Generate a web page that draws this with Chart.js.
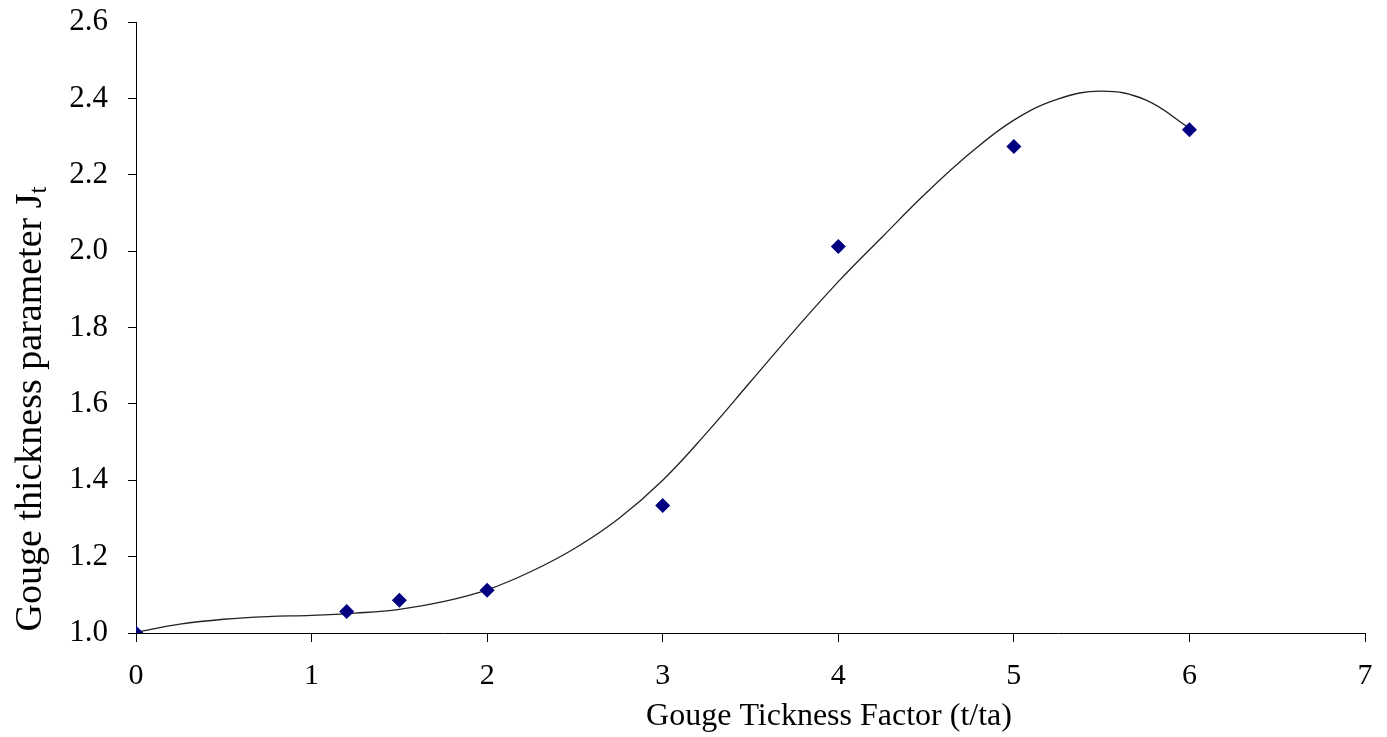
<!DOCTYPE html>
<html lang="en">
<head>
<meta charset="UTF-8">
<title>Gouge thickness parameter</title>
<script src="https://cdn.jsdelivr.net/npm/chart.js"></script>
<style>
  body { margin: 0; background: #fff; }
  #wrap { width: 1387px; height: 737px; }
</style>
</head>
<body>
<div id="wrap"><canvas id="chart"></canvas></div>
<script>
// measured points
var pointX = [0, 1.2, 1.5, 2, 3, 4, 5, 6];
var pointY = [1.0, 1.056, 1.086, 1.112, 1.334, 2.012, 2.274, 2.318];

// trend line
var trendX = [0, 0.25, 0.5, 0.75, 1, 1.25, 1.5, 1.75, 2, 2.25, 2.5, 2.75, 3,
              3.25, 3.5, 3.75, 4, 4.25, 4.5, 4.75, 5, 5.25, 5.5, 5.75, 6];
var trendY = [1.002, 1.023, 1.036, 1.043, 1.046, 1.052, 1.062, 1.082, 1.113,
              1.161, 1.222, 1.300, 1.400, 1.524, 1.658, 1.792, 1.920, 2.037,
              2.152, 2.256, 2.343, 2.398, 2.419, 2.396, 2.322];

var xTicks = [0, 1, 2, 3, 4, 5, 6, 7];
var yTicks = [1.0, 1.2, 1.4, 1.6, 1.8, 2.0, 2.2, 2.4, 2.6];

var xTitle = 'Gouge Tickness Factor (t/ta)';
var yTitle = 'Gouge thickness parameter J';
var ySub = 't';

var FONT = '"Liberation Serif", "Times New Roman", serif';

function pairs(xs, ys) {
    return xs.map(function (x, i) { return { x: x, y: ys[i] }; });
}

// axis titles drawn by hand (needs the subscript and off-centre placement)
var titlePlugin = {
    id: 'titles',
    afterDraw: function (chart) {
        var ctx = chart.ctx;
        ctx.save();
        ctx.fillStyle = '#000';
        ctx.textBaseline = 'alphabetic';
        ctx.font = '32px ' + FONT;
        ctx.textAlign = 'center';
        ctx.fillText(xTitle, 829, 725);

        ctx.translate(41, 409);
        ctx.rotate(-Math.PI / 2);
        ctx.textAlign = 'left';
        ctx.font = '38px ' + FONT;
        var w1 = ctx.measureText(yTitle).width;
        ctx.font = '25px ' + FONT;
        var w2 = ctx.measureText(ySub).width;
        var start = -(w1 + w2) / 2;
        ctx.font = '38px ' + FONT;
        ctx.fillText(yTitle, start, 0);
        ctx.font = '25px ' + FONT;
        ctx.fillText(ySub, start + w1, 5);
        ctx.restore();
    }
};

var ctx = document.getElementById('chart').getContext('2d');
var chart = new Chart(ctx, {
    type: 'scatter',
    data: {
        datasets: [{
            label: 'Jt',
            data: pairs(pointX, pointY),
            pointStyle: 'rectRot',
            pointRadius: 7.5,
            pointHoverRadius: 7.5,
            backgroundColor: '#000080',
            borderColor: '#000080',
            borderWidth: 0,
            order: 0
        }, {
            label: 'trend',
            data: pairs(trendX, trendY),
            showLine: true,
            pointRadius: 0,
            borderColor: '#222',
            borderWidth: 1.3,
            tension: 0.4,
            fill: false,
            order: 1
        }]
    },
    options: {
        responsive: true,
        maintainAspectRatio: false,
        animation: false,
        layout: { padding: { top: 22, right: 22, left: 0, bottom: 0 } },
        plugins: {
            legend: { display: false },
            tooltip: { enabled: false }
        },
        scales: {
            x: {
                type: 'linear',
                min: 0,
                max: 7,
                afterBuildTicks: function (s) { s.ticks = xTicks.map(function (v) { return { value: v }; }); },
                afterFit: function (s) {
                    s.height = 104;
                    s.paddingLeft = 0;
                    s.paddingRight = 0;
                },
                border: { color: '#000', width: 1 },
                grid: { drawOnChartArea: false, tickLength: 9, tickColor: '#000' },
                ticks: {
                    color: '#000',
                    padding: 16,
                    font: { family: FONT, size: 30 },
                    callback: function (v) { return v; }
                }
            },
            y: {
                type: 'linear',
                min: 1.0,
                max: 2.6,
                afterBuildTicks: function (s) { s.ticks = yTicks.map(function (v) { return { value: v }; }); },
                afterFit: function (s) {
                    s.width = 136;
                    s.paddingTop = 0;
                    s.paddingBottom = 0;
                },
                border: { color: '#000', width: 1 },
                grid: { drawOnChartArea: false, tickLength: 8, tickColor: '#000' },
                ticks: {
                    color: '#000',
                    padding: 20,
                    font: { family: FONT, size: 31 },
                    callback: function (v) { return v.toFixed(1); }
                }
            }
        }
    },
    plugins: [titlePlugin]
});
</script>
</body>
</html>
